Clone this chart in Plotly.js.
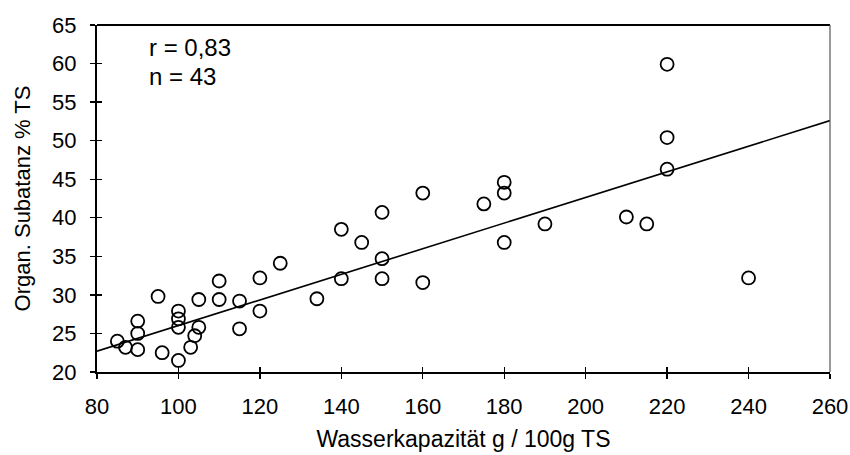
<!DOCTYPE html>
<html>
<head>
<meta charset="utf-8">
<script src="https://cdn.plot.ly/plotly-3.0.1.min.js"></script>
<style>html,body{margin:0;padding:0;background:#fff;}#chart{width:850px;height:455px;}</style>
</head>
<body>
<div id="chart"></div>
<script>
// Wasserkapazität (g / 100g TS)
const wasserkapazitaet = [85, 87, 90, 90, 90, 95, 96, 100, 100, 100, 100, 105, 105, 104, 103,
  110, 110, 115, 115, 120, 120, 125, 134, 140, 140, 145, 150, 150, 150, 160, 160,
  175, 180, 180, 180, 190, 210, 215, 220, 220, 220, 240];
// Organische Substanz (% TS)
const organSubstanz = [24.0, 23.2, 26.6, 25.0, 22.9, 29.8, 22.5, 21.5, 27.9, 26.9, 25.8, 29.4, 25.8, 24.7, 23.2,
  31.8, 29.4, 29.2, 25.6, 32.2, 27.9, 34.1, 29.5, 38.5, 32.1, 36.8, 40.7, 34.7, 32.1, 43.2, 31.6,
  41.8, 44.6, 43.2, 36.8, 39.2, 40.1, 39.2, 59.9, 50.4, 46.3, 32.2];
// Regressionsgerade
const trendX = [80, 260];
const trendY = [22.7, 52.6];
const xTicks = [80, 100, 120, 140, 160, 180, 200, 220, 240, 260];
const yTicks = [20, 25, 30, 35, 40, 45, 50, 55, 60, 65];
const statLines = ['r = 0,83', 'n = 43'];

const font = {family: 'Liberation Sans, Arial, sans-serif', color: '#000'};

const traces = [
  {x: trendX, y: trendY, mode: 'lines', line: {color: '#000', width: 1.6}, hoverinfo: 'skip', showlegend: false},
  {x: wasserkapazitaet, y: organSubstanz, mode: 'markers', showlegend: false,
   marker: {symbol: 'circle', size: 13, color: 'rgba(255,255,255,0)', line: {color: '#000', width: 1.8}}},
  {x: [], y: [], xaxis: 'x2', yaxis: 'y2', showlegend: false}
];

const layout = {
  width: 850, height: 455,
  margin: {l: 97, r: 20, t: 25, b: 83},
  paper_bgcolor: '#fff', plot_bgcolor: '#fff',
  font: Object.assign({size: 22}, font),
  showlegend: false,
  xaxis: {
    range: [80, 260], tickvals: xTicks, ticktext: xTicks.map(String),
    showgrid: false, zeroline: false, showline: true, linecolor: '#000', linewidth: 2,
    mirror: false, ticks: 'outside', ticklen: 5, tickwidth: 1.3, tickcolor: '#000',
    ticklabelstandoff: 9,
    tickfont: Object.assign({size: 22}, font),
    title: {text: 'Wasserkapazität g / 100g TS', font: Object.assign({size: 23}, font), standoff: 12}
  },
  yaxis: {
    range: [20, 65], tickvals: yTicks, ticktext: yTicks.map(String),
    showgrid: false, zeroline: false, showline: true, linecolor: '#000', linewidth: 2,
    mirror: false, ticks: 'outside', ticklen: 5, tickwidth: 1.3, tickcolor: '#000',
    ticklabelstandoff: 9,
    tickfont: Object.assign({size: 22}, font),
    title: {text: 'Organ. Subatanz % TS', font: Object.assign({size: 22}, font), standoff: 15}
  },
  xaxis2: {range: [80, 260], overlaying: 'x', tickvals: xTicks, showticklabels: false, ticks: 'inside',
    ticklen: 5, tickwidth: 1.3, tickcolor: '#000', showgrid: false, zeroline: false, showline: false, anchor: 'y2'},
  yaxis2: {range: [20, 65], overlaying: 'y', tickvals: yTicks, showticklabels: false, ticks: 'inside',
    ticklen: 5, tickwidth: 1.3, tickcolor: '#000', showgrid: false, zeroline: false, showline: false, anchor: 'x2'},
  shapes: [
    {type: 'line', xref: 'paper', yref: 'paper', x0: 0, x1: 1, y0: 1, y1: 1, line: {color: '#000', width: 2}},
    {type: 'line', xref: 'paper', yref: 'paper', x0: 1, x1: 1, y0: 0, y1: 1, line: {color: '#555', width: 1.2}}
  ],
  annotations: statLines.map((t, i) => ({
    xref: 'paper', yref: 'paper', x: 0.068, y: 0.935 - i * 0.084, xanchor: 'left', yanchor: 'middle',
    showarrow: false, text: t, font: Object.assign({size: 24}, font)
  }))
};

Plotly.newPlot('chart', traces, layout, {displayModeBar: false, staticPlot: true});
</script>
</body>
</html>
